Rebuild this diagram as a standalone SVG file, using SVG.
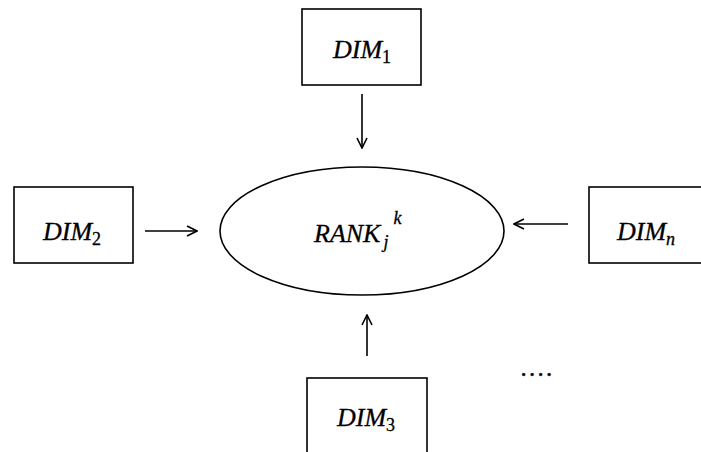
<svg xmlns="http://www.w3.org/2000/svg" width="701" height="452" viewBox="0 0 701 452">
<defs>
<style>
.box{fill:#fff;stroke:#000;stroke-width:1.6}
.lbl{font-family:"Liberation Serif",serif;font-style:italic;font-size:26px;fill:#000;stroke:#000;stroke-width:0.3}
.sub{font-size:18px;font-style:normal}
.isub{font-size:18px;font-style:italic}
.con{stroke:#000;stroke-width:1.6;fill:none;marker-end:url(#ah)}
</style>
<marker id="ah" viewBox="0 0 12 12" refX="11" refY="6" markerWidth="12" markerHeight="12" markerUnits="userSpaceOnUse" orient="auto">
<path d="M1,1 L11,6 L1,11" fill="none" stroke="#000" stroke-width="1.6"/>
</marker>
</defs>
<rect width="701" height="452" fill="#fff"/>
<g id="connectors">
<line class="con" x1="362" y1="94" x2="362" y2="148"/>
<line class="con" x1="145" y1="231" x2="197" y2="231"/>
<line class="con" x1="568" y1="224" x2="514" y2="224"/>
<line class="con" x1="367" y1="356" x2="367" y2="315"/>
</g>
<g id="rank">
<ellipse cx="362" cy="231" rx="142" ry="64" fill="#fff" stroke="#000" stroke-width="1.6"/>
<text class="lbl" x="314" y="242">RANK<tspan class="isub" dx="3" dy="6">j</tspan><tspan class="isub" dx="5" dy="-24">k</tspan></text>
</g>
<g id="dim1">
<rect class="box" x="302" y="9" width="119" height="76"/>
<text class="lbl" x="333" y="58">DIM<tspan class="sub" dy="5">1</tspan></text>
</g>
<g id="dim2">
<rect class="box" x="14" y="187" width="119" height="76"/>
<text class="lbl" x="43" y="240">DIM<tspan class="sub" dy="5">2</tspan></text>
</g>
<g id="dimn">
<rect class="box" x="589" y="187" width="120" height="76"/>
<text class="lbl" x="617" y="240">DIM<tspan class="isub" dy="5">n</tspan></text>
</g>
<g id="dim3">
<rect class="box" x="307" y="378" width="120" height="90"/>
<text class="lbl" x="337" y="426">DIM<tspan class="sub" dy="5">3</tspan></text>
</g>
<g id="dots">
<text class="lbl" x="521" y="376" font-style="normal" letter-spacing="2">....</text>
</g>
</svg>
